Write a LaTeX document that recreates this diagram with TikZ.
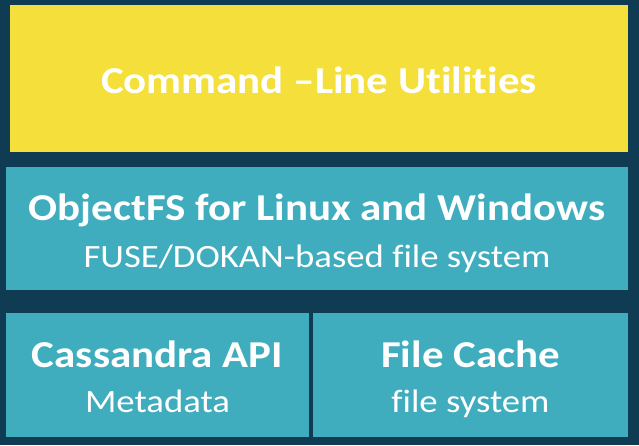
\documentclass[tikz,border=0pt]{standalone}
\usepackage{fontspec}
\setmainfont[FakeStretch=1.13, Ligatures=NoCommon]{Carlito}
\usetikzlibrary{positioning}
\definecolor{backnavy}{HTML}{0F3B53}
\definecolor{cmdyellow}{HTML}{F4DF3B}
\definecolor{layerteal}{HTML}{40ADBF}
\tikzset{
  layer/.style={inner sep=0pt, anchor=north west},
  heading/.style={text=white, font=\bfseries\fontsize{38}{40}\selectfont, anchor=base, inner sep=0pt},
  subline/.style={text=white, font=\fontsize{32.5}{34}\selectfont, anchor=base, inner sep=0pt}
}
\begin{document}
\begin{tikzpicture}[x=1pt,y=-1pt]
        \fill[backnavy] (0,0) rectangle (639,445);
        \useasboundingbox (0,0) rectangle (639,445);
        % layers, top to bottom
        \node[layer, fill=cmdyellow, minimum width=618pt, minimum height=147pt] (cmd) at (10,5) {};
        \node[layer, fill=layerteal, minimum width=622pt, minimum height=123pt] (objfs) at (6,167) {};
        \node[layer, fill=layerteal, minimum width=303pt, minimum height=124pt] (cass) at (6,313) {};
        \node[layer, fill=layerteal, minimum width=315pt, minimum height=124pt] (cache) at (313,313) {};
        % texts
        \node[heading] (cmdtitle) at (319,93) {Command –Line Utilities};
        \node[heading] (objfstitle) at (317,220) {ObjectFS for Linux and Windows};
        \node[subline] (objfssub) at (317,267) {FUSE/DOKAN-based file system};
        \node[heading] (casstitle) at (157.5,367) {Cassandra API};
        \node[subline] (casssub) at (157.5,412) {Metadata};
        \node[heading] (cachetitle) at (470.5,367) {File Cache};
        \node[subline] (cachesub) at (470.5,412) {file system};
      \end{tikzpicture}
\end{document}
